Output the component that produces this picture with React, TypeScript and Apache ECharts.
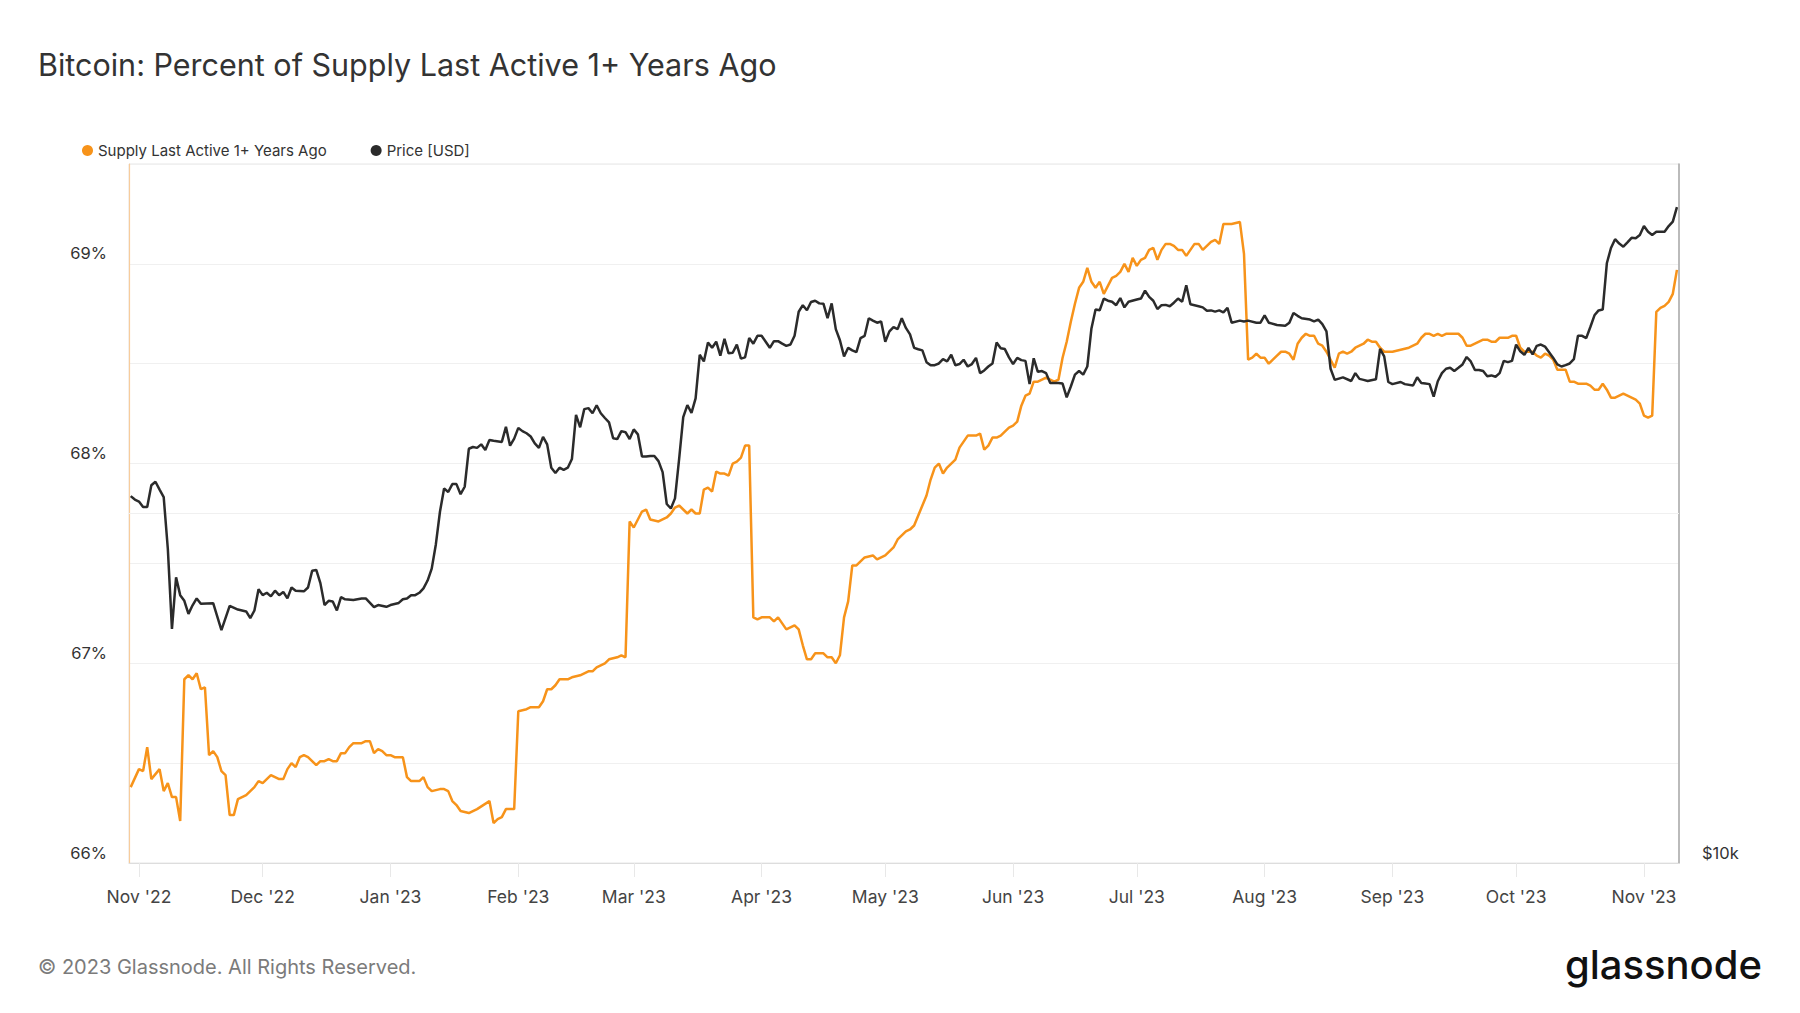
import React, { useEffect, useRef } from 'react';
import * as echarts from 'echarts';

const TITLE = 'Bitcoin: Percent of Supply Last Active 1+ Years Ago';
const SUPPLY_NAME = 'Supply Last Active 1+ Years Ago';
const PRICE_NAME = 'Price [USD]';
const FOOTER = '© 2023 Glassnode. All Rights Reserved.';
const LOGO = 'glassnode';
const MONTHS = ['Jan', 'Feb', 'Mar', 'Apr', 'May', 'Jun', 'Jul', 'Aug', 'Sep', 'Oct', 'Nov', 'Dec'];

// Supply Last Active 1+ Years Ago (%)
const supplyDates = [
  '2022-10-30',
  '2022-11-01','2022-11-02','2022-11-03','2022-11-04','2022-11-06','2022-11-07','2022-11-08','2022-11-09','2022-11-10','2022-11-11','2022-11-12','2022-11-13','2022-11-14','2022-11-15','2022-11-16','2022-11-17','2022-11-18','2022-11-19','2022-11-20','2022-11-21','2022-11-22','2022-11-23','2022-11-24','2022-11-25','2022-11-26','2022-11-27','2022-11-29','2022-11-30',
  '2022-12-01','2022-12-02','2022-12-03','2022-12-05','2022-12-06','2022-12-07','2022-12-08','2022-12-09','2022-12-10','2022-12-11','2022-12-12','2022-12-14','2022-12-15','2022-12-16','2022-12-17','2022-12-18','2022-12-19','2022-12-20','2022-12-21','2022-12-22','2022-12-23','2022-12-24','2022-12-25','2022-12-26','2022-12-27','2022-12-28','2022-12-29','2022-12-30','2022-12-31',
  '2023-01-01','2023-01-02','2023-01-04','2023-01-05','2023-01-06','2023-01-08','2023-01-09','2023-01-10','2023-01-11','2023-01-13','2023-01-14','2023-01-15','2023-01-16','2023-01-17','2023-01-18','2023-01-20','2023-01-22','2023-01-25','2023-01-26','2023-01-27','2023-01-28','2023-01-29','2023-01-30','2023-01-31',
  '2023-02-01','2023-02-03','2023-02-04','2023-02-06','2023-02-07','2023-02-08','2023-02-09','2023-02-10','2023-02-11','2023-02-13','2023-02-14','2023-02-16','2023-02-17','2023-02-18','2023-02-19','2023-02-20','2023-02-21','2023-02-22','2023-02-23','2023-02-25','2023-02-26','2023-02-27','2023-02-28',
  '2023-03-01','2023-03-02','2023-03-03','2023-03-04','2023-03-05','2023-03-07','2023-03-08','2023-03-09','2023-03-10','2023-03-11','2023-03-12','2023-03-13','2023-03-14','2023-03-15','2023-03-16','2023-03-17','2023-03-18','2023-03-19','2023-03-20','2023-03-21','2023-03-22','2023-03-23','2023-03-24','2023-03-25','2023-03-26','2023-03-27','2023-03-28','2023-03-29','2023-03-30','2023-03-31',
  '2023-04-01','2023-04-02','2023-04-03','2023-04-04','2023-04-05','2023-04-06','2023-04-07','2023-04-08','2023-04-09','2023-04-10','2023-04-11','2023-04-12','2023-04-13','2023-04-14','2023-04-15','2023-04-16','2023-04-17','2023-04-18','2023-04-19','2023-04-20','2023-04-21','2023-04-22','2023-04-23','2023-04-24','2023-04-25','2023-04-26','2023-04-28','2023-04-29','2023-04-30',
  '2023-05-01','2023-05-02','2023-05-03','2023-05-04','2023-05-05','2023-05-06','2023-05-07','2023-05-08','2023-05-09','2023-05-10','2023-05-11','2023-05-12','2023-05-13','2023-05-14','2023-05-15','2023-05-16','2023-05-17','2023-05-18','2023-05-19','2023-05-20','2023-05-21','2023-05-22','2023-05-23','2023-05-24','2023-05-25','2023-05-26','2023-05-27','2023-05-28','2023-05-29','2023-05-30','2023-05-31',
  '2023-06-01','2023-06-02','2023-06-03','2023-06-04','2023-06-05','2023-06-06','2023-06-07','2023-06-08','2023-06-09','2023-06-10','2023-06-11','2023-06-12','2023-06-13','2023-06-14','2023-06-15','2023-06-16','2023-06-17','2023-06-18','2023-06-19','2023-06-20','2023-06-21','2023-06-22','2023-06-23','2023-06-24','2023-06-25','2023-06-26','2023-06-27','2023-06-28','2023-06-29','2023-06-30',
  '2023-07-01','2023-07-02','2023-07-03','2023-07-04','2023-07-05','2023-07-06','2023-07-07','2023-07-08','2023-07-09','2023-07-10','2023-07-11','2023-07-12','2023-07-13','2023-07-14','2023-07-15','2023-07-16','2023-07-17','2023-07-18','2023-07-19','2023-07-20','2023-07-21','2023-07-22','2023-07-23','2023-07-24','2023-07-26','2023-07-27','2023-07-28','2023-07-29','2023-07-30','2023-07-31',
  '2023-08-01','2023-08-02','2023-08-03','2023-08-04','2023-08-05','2023-08-06','2023-08-07','2023-08-08','2023-08-09','2023-08-10','2023-08-11','2023-08-12','2023-08-13','2023-08-14','2023-08-15','2023-08-16','2023-08-17','2023-08-18','2023-08-19','2023-08-20','2023-08-21','2023-08-22','2023-08-23','2023-08-24','2023-08-25','2023-08-26','2023-08-27','2023-08-28','2023-08-29','2023-08-30','2023-08-31',
  '2023-09-01','2023-09-03','2023-09-05','2023-09-06','2023-09-07','2023-09-08','2023-09-09','2023-09-10','2023-09-11','2023-09-12','2023-09-13','2023-09-14','2023-09-15','2023-09-16','2023-09-17','2023-09-18','2023-09-19','2023-09-20','2023-09-21','2023-09-22','2023-09-23','2023-09-24','2023-09-25','2023-09-26','2023-09-27','2023-09-28','2023-09-29','2023-09-30',
  '2023-10-01','2023-10-02','2023-10-03','2023-10-04','2023-10-05','2023-10-06','2023-10-07','2023-10-08','2023-10-09','2023-10-10','2023-10-11','2023-10-12','2023-10-13','2023-10-14','2023-10-15','2023-10-16','2023-10-17','2023-10-18','2023-10-19','2023-10-20','2023-10-21','2023-10-22','2023-10-23','2023-10-24','2023-10-25','2023-10-26','2023-10-27','2023-10-28','2023-10-29','2023-10-30','2023-10-31',
  '2023-11-01','2023-11-02','2023-11-03','2023-11-04','2023-11-05','2023-11-06','2023-11-07','2023-11-08','2023-11-09',
];
const supplyValues = [
  66.38,
  66.47,66.46,66.58,66.42,66.47,66.36,66.40,66.33,66.33,66.21,66.92,66.94,66.92,66.95,66.87,66.88,66.54,66.56,66.53,66.46,66.44,66.24,66.24,66.32,66.33,66.34,66.38,66.41,
  66.40,66.42,66.44,66.42,66.42,66.47,66.50,66.48,66.53,66.54,66.53,66.49,66.51,66.51,66.52,66.51,66.51,66.55,66.55,66.58,66.60,66.60,66.60,66.61,66.61,66.55,66.57,66.56,66.54,
  66.54,66.53,66.53,66.43,66.41,66.41,66.43,66.38,66.36,66.37,66.37,66.36,66.31,66.29,66.26,66.25,66.27,66.31,66.20,66.22,66.23,66.27,66.27,66.27,
  66.76,66.77,66.78,66.78,66.81,66.87,66.87,66.89,66.92,66.92,66.93,66.94,66.95,66.96,66.96,66.98,66.99,67.00,67.02,67.03,67.04,67.03,67.71,
  67.68,67.72,67.76,67.77,67.72,67.71,67.72,67.73,67.75,67.78,67.79,67.77,67.75,67.77,67.75,67.75,67.87,67.88,67.86,67.96,67.95,67.95,67.94,68.00,68.01,68.03,68.09,68.09,67.23,67.22,
  67.23,67.23,67.23,67.21,67.23,67.20,67.17,67.18,67.19,67.17,67.09,67.02,67.02,67.05,67.05,67.05,67.03,67.03,67.00,67.04,67.23,67.31,67.49,67.49,67.51,67.53,67.54,67.52,67.53,
  67.54,67.56,67.58,67.62,67.64,67.66,67.67,67.69,67.74,67.79,67.84,67.92,67.98,68.00,67.95,67.98,68.00,68.02,68.08,68.11,68.14,68.14,68.14,68.15,68.07,68.09,68.13,68.13,68.14,68.16,68.18,
  68.19,68.21,68.29,68.34,68.35,68.41,68.41,68.42,68.43,68.42,68.41,68.42,68.53,68.61,68.71,68.80,68.88,68.91,68.98,68.91,68.88,68.91,68.85,68.89,68.93,68.94,68.96,69.00,68.96,69.03,
  68.99,69.02,69.03,69.07,69.08,69.02,69.07,69.10,69.10,69.09,69.07,69.07,69.04,69.07,69.10,69.10,69.07,69.09,69.11,69.12,69.10,69.20,69.20,69.20,69.21,69.05,68.52,68.53,68.55,68.53,
  68.53,68.50,68.52,68.54,68.56,68.56,68.55,68.52,68.60,68.63,68.65,68.64,68.64,68.60,68.59,68.56,68.52,68.48,68.55,68.56,68.55,68.56,68.58,68.59,68.60,68.62,68.61,68.61,68.58,68.56,68.56,
  68.56,68.57,68.58,68.59,68.60,68.63,68.65,68.65,68.64,68.65,68.64,68.65,68.65,68.65,68.65,68.63,68.59,68.59,68.60,68.61,68.62,68.62,68.61,68.61,68.63,68.63,68.63,68.64,
  68.64,68.58,68.56,68.56,68.56,68.54,68.53,68.55,68.54,68.52,68.47,68.47,68.47,68.41,68.41,68.40,68.40,68.40,68.39,68.37,68.37,68.40,68.37,68.33,68.33,68.34,68.35,68.34,68.33,68.32,68.30,
  68.24,68.23,68.24,68.76,68.78,68.79,68.81,68.85,68.97,
];

// Price [USD]
const priceDates = [
  '2022-10-30','2022-10-31',
  '2022-11-01','2022-11-02','2022-11-03','2022-11-04','2022-11-05','2022-11-06','2022-11-07','2022-11-08','2022-11-09','2022-11-10','2022-11-11','2022-11-12','2022-11-13','2022-11-14','2022-11-15','2022-11-16','2022-11-19','2022-11-21','2022-11-23','2022-11-25','2022-11-27','2022-11-28','2022-11-29','2022-11-30',
  '2022-12-01','2022-12-02','2022-12-03','2022-12-04','2022-12-05','2022-12-06','2022-12-07','2022-12-08','2022-12-09','2022-12-11','2022-12-12','2022-12-13','2022-12-14','2022-12-15','2022-12-16','2022-12-17','2022-12-18','2022-12-19','2022-12-20','2022-12-21','2022-12-23','2022-12-25','2022-12-26','2022-12-28','2022-12-29','2022-12-31',
  '2023-01-01','2023-01-03','2023-01-04','2023-01-05','2023-01-06','2023-01-07','2023-01-08','2023-01-09','2023-01-10','2023-01-11','2023-01-12','2023-01-13','2023-01-14','2023-01-15','2023-01-16','2023-01-17','2023-01-18','2023-01-19','2023-01-20','2023-01-21','2023-01-22','2023-01-23','2023-01-24','2023-01-25','2023-01-26','2023-01-28','2023-01-29','2023-01-30','2023-01-31',
  '2023-02-01','2023-02-02','2023-02-03','2023-02-04','2023-02-05','2023-02-06','2023-02-07','2023-02-08','2023-02-09','2023-02-10','2023-02-11','2023-02-12','2023-02-13','2023-02-14','2023-02-15','2023-02-16','2023-02-17','2023-02-18','2023-02-19','2023-02-20','2023-02-21','2023-02-22','2023-02-23','2023-02-24','2023-02-25','2023-02-26','2023-02-27','2023-02-28',
  '2023-03-01','2023-03-02','2023-03-03','2023-03-04','2023-03-05','2023-03-06','2023-03-07','2023-03-08','2023-03-09','2023-03-10','2023-03-11','2023-03-12','2023-03-13','2023-03-14','2023-03-15','2023-03-16','2023-03-17','2023-03-18','2023-03-19','2023-03-20','2023-03-21','2023-03-22','2023-03-23','2023-03-24','2023-03-25','2023-03-26','2023-03-27','2023-03-28','2023-03-29','2023-03-30','2023-03-31',
  '2023-04-01','2023-04-02','2023-04-03','2023-04-04','2023-04-05','2023-04-06','2023-04-07','2023-04-08','2023-04-09','2023-04-10','2023-04-11','2023-04-12','2023-04-13','2023-04-14','2023-04-15','2023-04-16','2023-04-17','2023-04-18','2023-04-19','2023-04-20','2023-04-21','2023-04-22','2023-04-23','2023-04-24','2023-04-25','2023-04-26','2023-04-27','2023-04-28','2023-04-29','2023-04-30',
  '2023-05-01','2023-05-02','2023-05-03','2023-05-04','2023-05-05','2023-05-06','2023-05-07','2023-05-08','2023-05-09','2023-05-10','2023-05-11','2023-05-12','2023-05-13','2023-05-14','2023-05-15','2023-05-16','2023-05-17','2023-05-18','2023-05-19','2023-05-20','2023-05-21','2023-05-22','2023-05-23','2023-05-24','2023-05-25','2023-05-26','2023-05-27','2023-05-28','2023-05-29','2023-05-30','2023-05-31',
  '2023-06-01','2023-06-02','2023-06-03','2023-06-04','2023-06-05','2023-06-06','2023-06-07','2023-06-08','2023-06-09','2023-06-10','2023-06-11','2023-06-12','2023-06-13','2023-06-14','2023-06-15','2023-06-16','2023-06-17','2023-06-18','2023-06-19','2023-06-20','2023-06-21','2023-06-22','2023-06-23','2023-06-24','2023-06-25','2023-06-26','2023-06-27','2023-06-28','2023-06-29',
  '2023-07-01','2023-07-02','2023-07-03','2023-07-04','2023-07-05','2023-07-06','2023-07-07','2023-07-08','2023-07-09','2023-07-10','2023-07-11','2023-07-12','2023-07-13','2023-07-14','2023-07-16','2023-07-17','2023-07-18','2023-07-19','2023-07-20','2023-07-21','2023-07-22','2023-07-23','2023-07-24','2023-07-26','2023-07-27','2023-07-28','2023-07-30','2023-07-31',
  '2023-08-01','2023-08-02','2023-08-04','2023-08-06','2023-08-07','2023-08-08','2023-08-09','2023-08-10','2023-08-12','2023-08-13','2023-08-14','2023-08-15','2023-08-16','2023-08-17','2023-08-18','2023-08-20','2023-08-22','2023-08-23','2023-08-24','2023-08-25','2023-08-26','2023-08-28','2023-08-29','2023-08-30','2023-08-31',
  '2023-09-01','2023-09-03','2023-09-04','2023-09-06','2023-09-07','2023-09-08','2023-09-09','2023-09-10','2023-09-11','2023-09-12','2023-09-13','2023-09-14','2023-09-15','2023-09-16','2023-09-17','2023-09-18','2023-09-19','2023-09-20','2023-09-21','2023-09-22','2023-09-23','2023-09-24','2023-09-25','2023-09-26','2023-09-27','2023-09-28','2023-09-29','2023-09-30',
  '2023-10-01','2023-10-02','2023-10-03','2023-10-04','2023-10-05','2023-10-06','2023-10-07','2023-10-08','2023-10-09','2023-10-10','2023-10-11','2023-10-12','2023-10-13','2023-10-14','2023-10-15','2023-10-16','2023-10-17','2023-10-18','2023-10-19','2023-10-20','2023-10-21','2023-10-22','2023-10-23','2023-10-24','2023-10-25','2023-10-26','2023-10-27','2023-10-28','2023-10-29','2023-10-30','2023-10-31',
  '2023-11-01','2023-11-02','2023-11-03','2023-11-04','2023-11-05','2023-11-06','2023-11-07','2023-11-08','2023-11-09',
];
const priceValues = [
  20700,20560,
  20480,20260,20260,21150,21300,20970,20660,18650,15910,17620,17010,16820,16390,16670,16900,16720,16740,15870,16650,16530,16470,16250,16500,17210,
  17010,17090,16970,17160,17010,17120,16900,17270,17160,17140,17270,17850,17880,17420,16680,16820,16800,16500,16940,16870,16850,16900,16900,16610,16680,16620,
  16680,16750,16870,16900,17010,17010,17090,17240,17510,17930,18810,20070,21020,20870,21200,21200,20780,21090,22740,22820,22780,22940,22680,23140,23100,23050,23750,22880,23200,
  23700,23550,23450,23300,22980,22780,23280,22940,21900,21670,21900,21810,21900,22280,24320,23730,24600,24650,24400,24790,24400,24170,23960,23220,23180,23550,23500,23180,
  23630,23400,22390,22390,22420,22420,22190,21710,20380,20200,20610,22280,24210,24800,24420,25130,27400,27040,28080,27780,28120,27350,28280,27480,27510,27960,27190,27260,28320,28010,28450,
  28450,28120,27780,28150,28150,28010,27890,27960,28450,29840,30230,29930,30420,30500,30340,30320,29460,30340,28830,28200,27310,27780,27640,27540,28320,28450,29460,29320,29200,29270,
  28120,28700,28950,28830,29460,28900,28530,27780,27700,27640,27000,26840,26840,26930,27160,27040,27400,26840,26900,27130,26770,26900,27230,26420,26560,26770,26930,28080,27760,27710,27260,
  26900,27230,27110,27070,25850,27210,26490,26530,26420,25910,25910,25910,25880,25180,25730,26340,26530,26340,26770,28870,29970,29930,30630,30500,30440,30230,30660,30100,30440,
  30570,30630,31120,30730,30500,30000,30230,30250,30170,30380,30630,30440,31450,30290,30170,30100,29900,29920,29850,29920,29800,30070,29200,29320,29270,29320,29200,29200,
  29630,29200,29070,29020,29200,29770,29600,29460,29380,29270,29380,29120,28700,26650,26070,26200,26010,26420,26120,26070,26010,26100,27720,27310,25960,
  25850,25960,25850,25780,26200,25910,25880,25850,25220,26000,26420,26650,26700,26530,26700,26880,27280,27040,26580,26580,26530,26260,26300,26230,26420,27070,27000,27070,
  27960,27590,27400,27780,27420,27890,27960,27850,27540,27230,26880,26770,26840,26930,27160,28450,28450,28320,28950,29630,29920,29970,32850,33860,34460,34160,33950,34240,34550,34520,34750,
  35370,34970,34750,34970,34970,34970,35370,35680,36720,
];

// Axis settings
const PCT_MIN = 66;
const PCT_MAX = 69.5;
const PCT_STEP = 0.5;
const PRICE_MIN = 10000;
const PRICE_MAX = 40000;
const PRICE_GRID = [20000];
const X_MIN = Date.UTC(2022, 9, 29, 14);
const X_MAX = Date.UTC(2023, 10, 9, 12);
const DAY = 86400000;

const ORANGE = '#f7931a';
const DARK = '#2b2b2b';
const FONT = 'Inter';

export default function App() {
  const ref = useRef<HTMLDivElement>(null);
  useEffect(() => {
    const el = ref.current;
    if (!el) return;
    const chart = echarts.init(el, null, { renderer: 'svg' });
    const toTs = (d: string) => Date.parse(d + 'T00:00:00Z');
    const supplyData = supplyDates.map((d, i) => [toTs(d), supplyValues[i]]);
    const priceData = priceDates.map((d, i) => [toTs(d), priceValues[i]]);

    chart.setOption({
      animation: false,
      useUTC: true,
      backgroundColor: '#ffffff',
      textStyle: { fontFamily: FONT },
      title: {
        text: TITLE,
        left: 33,
        top: 44,
        textStyle: { fontFamily: FONT, fontSize: 30.5, fontWeight: 400, color: '#333333' },
      },
      legend: {
        left: 77,
        top: 138,
        icon: 'circle',
        itemWidth: 11,
        itemHeight: 11,
        itemGap: 44,
        data: [SUPPLY_NAME, PRICE_NAME],
        textStyle: { fontFamily: FONT, fontSize: 15, color: '#333333' },
      },
      grid: {
        left: 129,
        right: 121,
        top: 164,
        bottom: 150,
        show: true,
        borderColor: '#e6e6e6',
        borderWidth: 1,
        containLabel: false,
        outerBoundsMode: 'none',
      },
      xAxis: {
        type: 'time',
        min: X_MIN,
        max: X_MAX,
        splitNumber: 12,
        minInterval: 30 * DAY,
        maxInterval: 30 * DAY,
        axisLine: { show: true, lineStyle: { color: '#dddddd', width: 1 } },
        axisTick: { show: true, length: 14, lineStyle: { color: '#e8e8e8' } },
        splitLine: { show: false },
        axisLabel: {
          fontFamily: FONT,
          fontSize: 17.5,
          color: '#444444',
          margin: 24,
          formatter: (v: number) => {
            const d = new Date(v);
            return `${MONTHS[d.getUTCMonth()]} '${String(d.getUTCFullYear()).slice(2)}`;
          },
        },
      },
      yAxis: [
        {
          type: 'value',
          position: 'left',
          min: PCT_MIN,
          max: PCT_MAX,
          interval: PCT_STEP,
          axisLine: { show: true, lineStyle: { color: '#f7cc9c', width: 1.2 } },
          axisTick: { show: false },
          splitLine: { show: true, lineStyle: { color: '#f0f0f0', width: 1 } },
          axisLabel: {
            fontFamily: FONT,
            fontSize: 16.5,
            color: '#333333',
            margin: 22,
            verticalAlign: 'bottom',
            padding: [0, 0, 2, 0],
            formatter: (v: number) => (Math.abs(v - Math.round(v)) < 1e-6 ? `${Math.round(v)}%` : ''),
          },
        },
        {
          type: 'log',
          position: 'right',
          logBase: 10,
          min: PRICE_MIN,
          max: PRICE_MAX,
          axisLine: { show: true, lineStyle: { color: '#a8a8a8', width: 1.5 } },
          axisTick: { show: false },
          splitLine: { show: false },
          axisLabel: {
            fontFamily: FONT,
            fontSize: 16.5,
            color: '#333333',
            margin: 23,
            verticalAlign: 'bottom',
            padding: [0, 0, 2, 0],
            formatter: (v: number) => (Math.abs(v - PRICE_MIN) < 1 ? '$10k' : ''),
          },
        },
      ],
      series: [
        {
          name: SUPPLY_NAME,
          type: 'line',
          yAxisIndex: 0,
          data: supplyData,
          showSymbol: false,
          symbol: 'none',
          lineStyle: { color: ORANGE, width: 2.5 },
          itemStyle: { color: ORANGE },
          z: 3,
        },
        {
          name: PRICE_NAME,
          type: 'line',
          yAxisIndex: 1,
          data: priceData,
          showSymbol: false,
          symbol: 'none',
          lineStyle: { color: DARK, width: 2.5 },
          itemStyle: { color: DARK },
          z: 4,
          markLine: {
            silent: true,
            symbol: ['none', 'none'],
            label: { show: false },
            lineStyle: { color: '#f0f0f0', width: 1, type: 'solid' },
            z: 1,
            data: PRICE_GRID.map((p) => ({ yAxis: p })),
          },
        },
      ],
      graphic: [
        {
          type: 'text',
          left: 38,
          top: 957,
          style: { text: FOOTER, fill: '#7b7b7b', font: `20px ${FONT}` },
        },
        {
          type: 'text',
          right: 38,
          top: 944,
          style: { text: LOGO, fill: '#111111', font: `500 40px ${FONT}` },
        },
      ],
    });
    return () => chart.dispose();
  }, []);
  return (
    <div
      ref={ref}
      style={{ position: 'fixed', left: 0, top: 0, width: 1800, height: 1013, background: '#ffffff' }}
    />
  );
}
